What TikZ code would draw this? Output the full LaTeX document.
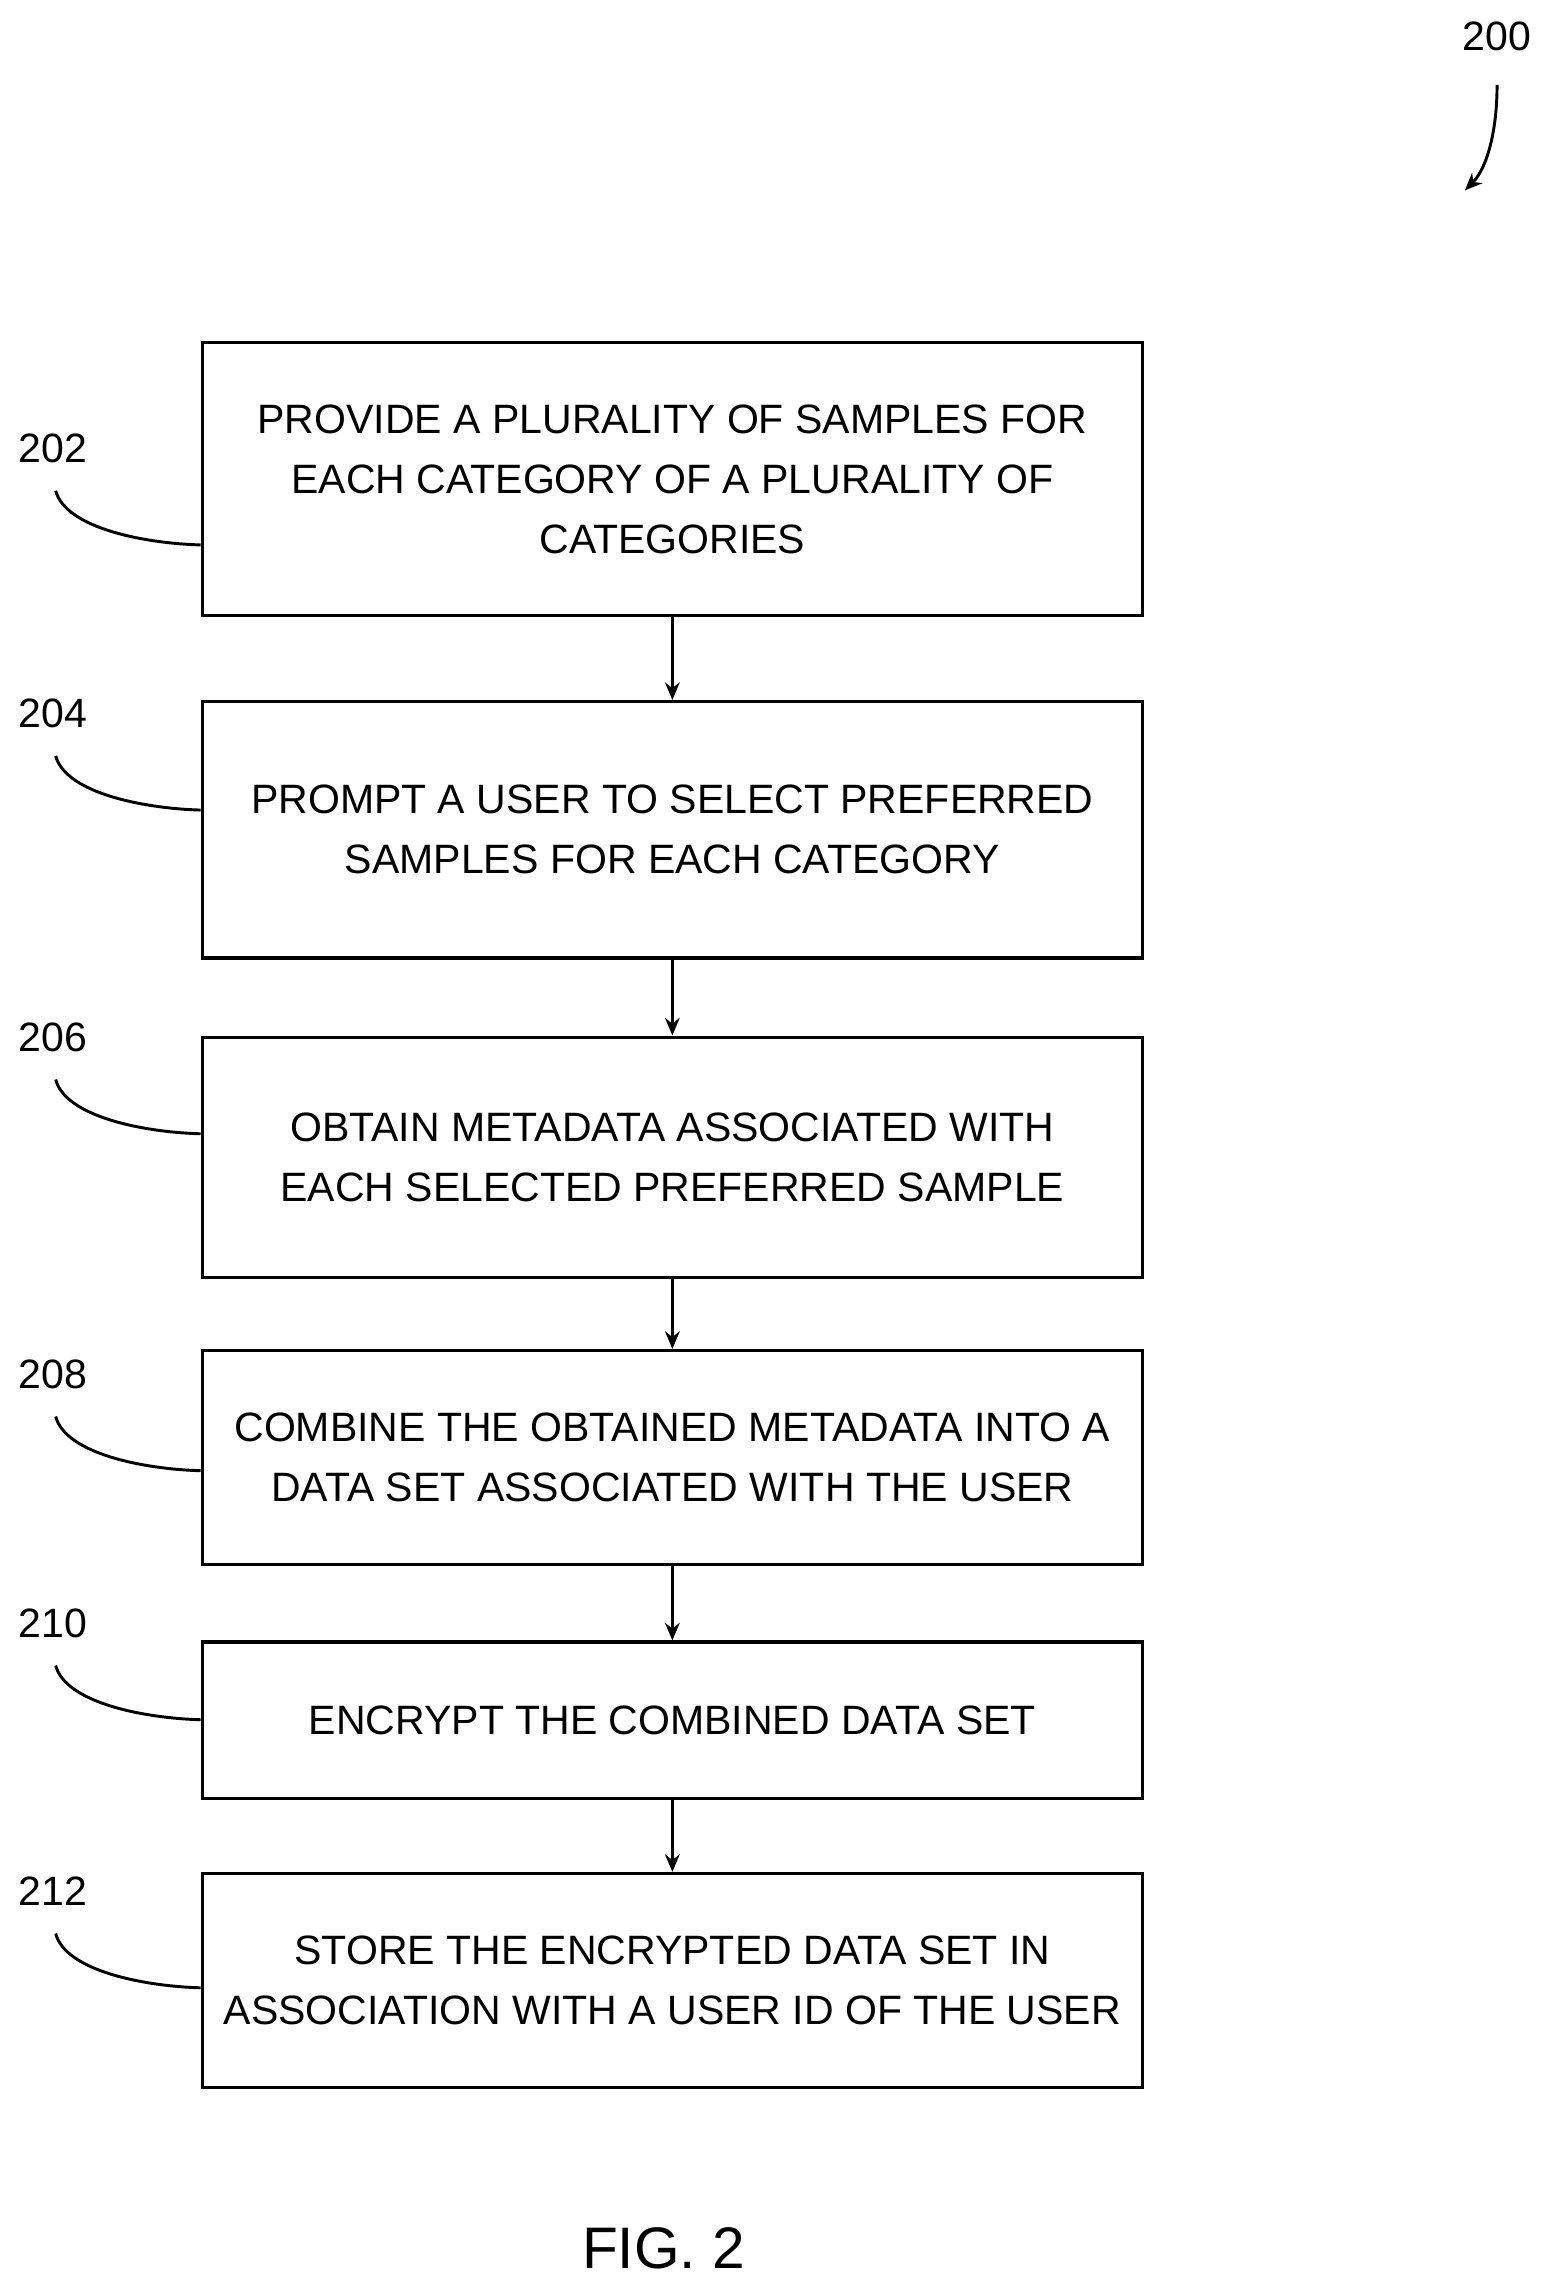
\documentclass[tikz,border=0pt]{standalone}
\usepackage{fontspec}
\setmainfont{Liberation Sans}
\usetikzlibrary{arrows.meta}
\begin{document}
\begin{tikzpicture}[x=1pt,y=-1pt,
  box/.style={draw,line width=2.2pt,minimum width=642pt,align=center,inner sep=0pt,font=\fontsize{28}{41}\selectfont},
  lab/.style={font=\fontsize{28}{30}\selectfont},
  arr/.style={line width=2pt,-{Stealth[length=12pt,width=10pt]}},
  lead/.style={line width=2pt}]
\useasboundingbox (0,0) rectangle (1056,1564);
\node[box,minimum height=186pt] (b1) at (459,327) {PROVIDE A PLURALITY OF SAMPLES FOR\\EACH CATEGORY OF A PLURALITY OF\\CATEGORIES};
\node[box,minimum height=175pt] (b2) at (459,566.5) {PROMPT A USER TO SELECT PREFERRED\\SAMPLES FOR EACH CATEGORY};
\node[box,minimum height=164pt] (b3) at (459,790) {OBTAIN METADATA ASSOCIATED WITH\\EACH SELECTED PREFERRED SAMPLE};
\node[box,minimum height=146pt] (b4) at (459,995) {COMBINE THE OBTAINED METADATA INTO A\\DATA SET ASSOCIATED WITH THE USER};
\node[box,minimum height=107pt] (b5) at (459,1174.5) {ENCRYPT THE COMBINED DATA SET};
\node[box,minimum height=146pt] (b6) at (459,1352) {STORE THE ENCRYPTED DATA SET IN\\ASSOCIATION WITH A USER ID OF THE USER};
\draw[arr] (b1) -- (b2);
\draw[arr] (b2) -- (b3);
\draw[arr] (b3) -- (b4);
\draw[arr] (b4) -- (b5);
\draw[arr] (b5) -- (b6);
\foreach \n/\t/\y in {1/202/306,2/204/487,3/206/708,4/208/938,5/210/1108,6/212/1291}{
  \node[lab] (l\n) at (36,\y) {\t};
  \coordinate (s\n) at (38,\y+29);
  \draw[lead] (s\n) .. controls (45,\y+55) and (100,\y+65) .. (b\n.west |- 0,\y+66);
}
\node[lab] (n200) at (1022,25) {200};
\coordinate (a0) at (1022,58);
\coordinate (a1) at (1000,130);
\draw[arr] (a0) .. controls (1022,90) and (1015,115) .. (a1);
\node[font=\fontsize{40}{44}\selectfont] (fig) at (453,1535) {FIG. 2};
\end{tikzpicture}
\end{document}
